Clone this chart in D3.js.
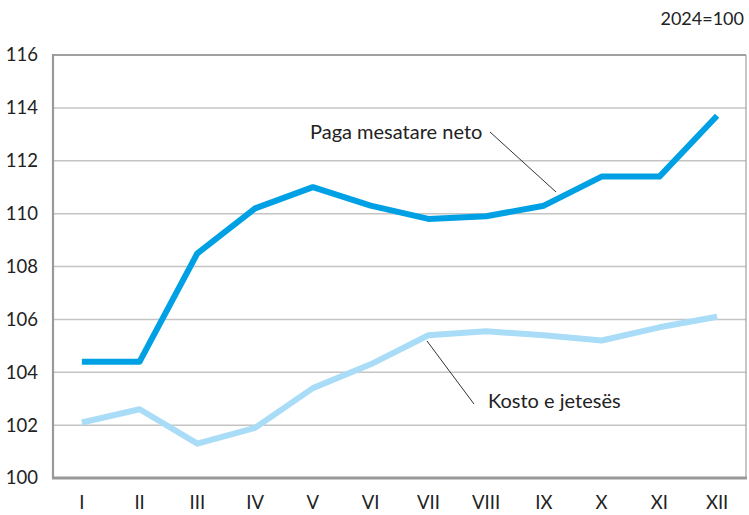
<!DOCTYPE html>
<html><head><meta charset="utf-8">
<script src="https://cdn.jsdelivr.net/npm/d3@7"></script>
<style>body{margin:0;background:#fff}svg{display:block}text{font-family:Lato,"Open Sans",sans-serif;fill:#222}</style>
</head><body>
<svg id="c" width="749" height="515"></svg>
<script>
const months = ["I","II","III","IV","V","VI","VII","VIII","IX","X","XI","XII"];
const paga = [104.4,104.4,108.5,110.2,111.0,110.3,109.8,109.9,110.3,111.4,111.4,113.7];
const kosto = [102.1,102.6,101.3,101.9,103.4,104.3,105.4,105.55,105.4,105.2,105.7,106.1];
const yTicks = [100,102,104,106,108,110,112,114,116];

const svg = d3.select("#c");
const L=53, R=746, T=55, B=478;
const x = d3.scalePoint().domain(months).range([L, R]).padding(0.5);
const y = d3.scaleLinear().domain([100,116]).range([B, T]);

// grid
svg.append("g").selectAll("line").data(yTicks.slice(1,-1)).join("line")
  .attr("x1",L).attr("x2",R).attr("y1",d=>y(d)).attr("y2",d=>y(d))
  .attr("stroke","#c4c4c4").attr("stroke-width",1.5);
// frame
svg.append("line").attr("x1",L).attr("x2",R).attr("y1",T).attr("y2",T).attr("stroke","#a0a0a0").attr("stroke-width",2);
svg.append("line").attr("x1",R).attr("x2",R).attr("y1",T).attr("y2",B).attr("stroke","#a0a0a0").attr("stroke-width",1.2);
svg.append("line").attr("x1",L).attr("x2",L).attr("y1",T-1).attr("y2",B+1).attr("stroke","#999").attr("stroke-width",2.2);
svg.append("line").attr("x1",L-1).attr("x2",R+1).attr("y1",B).attr("y2",B).attr("stroke","#999").attr("stroke-width",3);

// y labels
svg.append("g").selectAll("text").data(yTicks).join("text")
  .attr("x",38).attr("y",d=>y(d)).attr("dy","0.35em").attr("text-anchor","end")
  .attr("font-size",18.5).text(d=>d);
// x labels
svg.append("g").selectAll("text").data(months).join("text")
  .attr("x",d=>x(d)).attr("y",509).attr("text-anchor","middle")
  .attr("font-size",18.5).text(d=>d);

svg.append("text").attr("x",744).attr("y",25).attr("text-anchor","end").attr("font-size",18).text("2024=100");

const line = d3.line().x((d,i)=>x(months[i])).y(d=>y(d));
svg.append("path").datum(kosto).attr("d",line).attr("fill","none")
  .attr("stroke","#a9ddf7").attr("stroke-width",6).attr("stroke-linejoin","round");
svg.append("path").datum(paga).attr("d",line).attr("fill","none")
  .attr("stroke","#00a1e4").attr("stroke-width",6).attr("stroke-linejoin","round");

// annotations
svg.append("text").attr("x",310).attr("y",139).attr("font-size",20).text("Paga mesatare neto");
svg.append("line").attr("x1",490).attr("y1",132).attr("x2",556).attr("y2",192).attr("stroke","#333").attr("stroke-width",1);
svg.append("text").attr("x",488).attr("y",408).attr("font-size",20).text("Kosto e jetesës");
svg.append("line").attr("x1",427).attr("y1",341).attr("x2",474).attr("y2",404).attr("stroke","#333").attr("stroke-width",1);
</script>
</body></html>
